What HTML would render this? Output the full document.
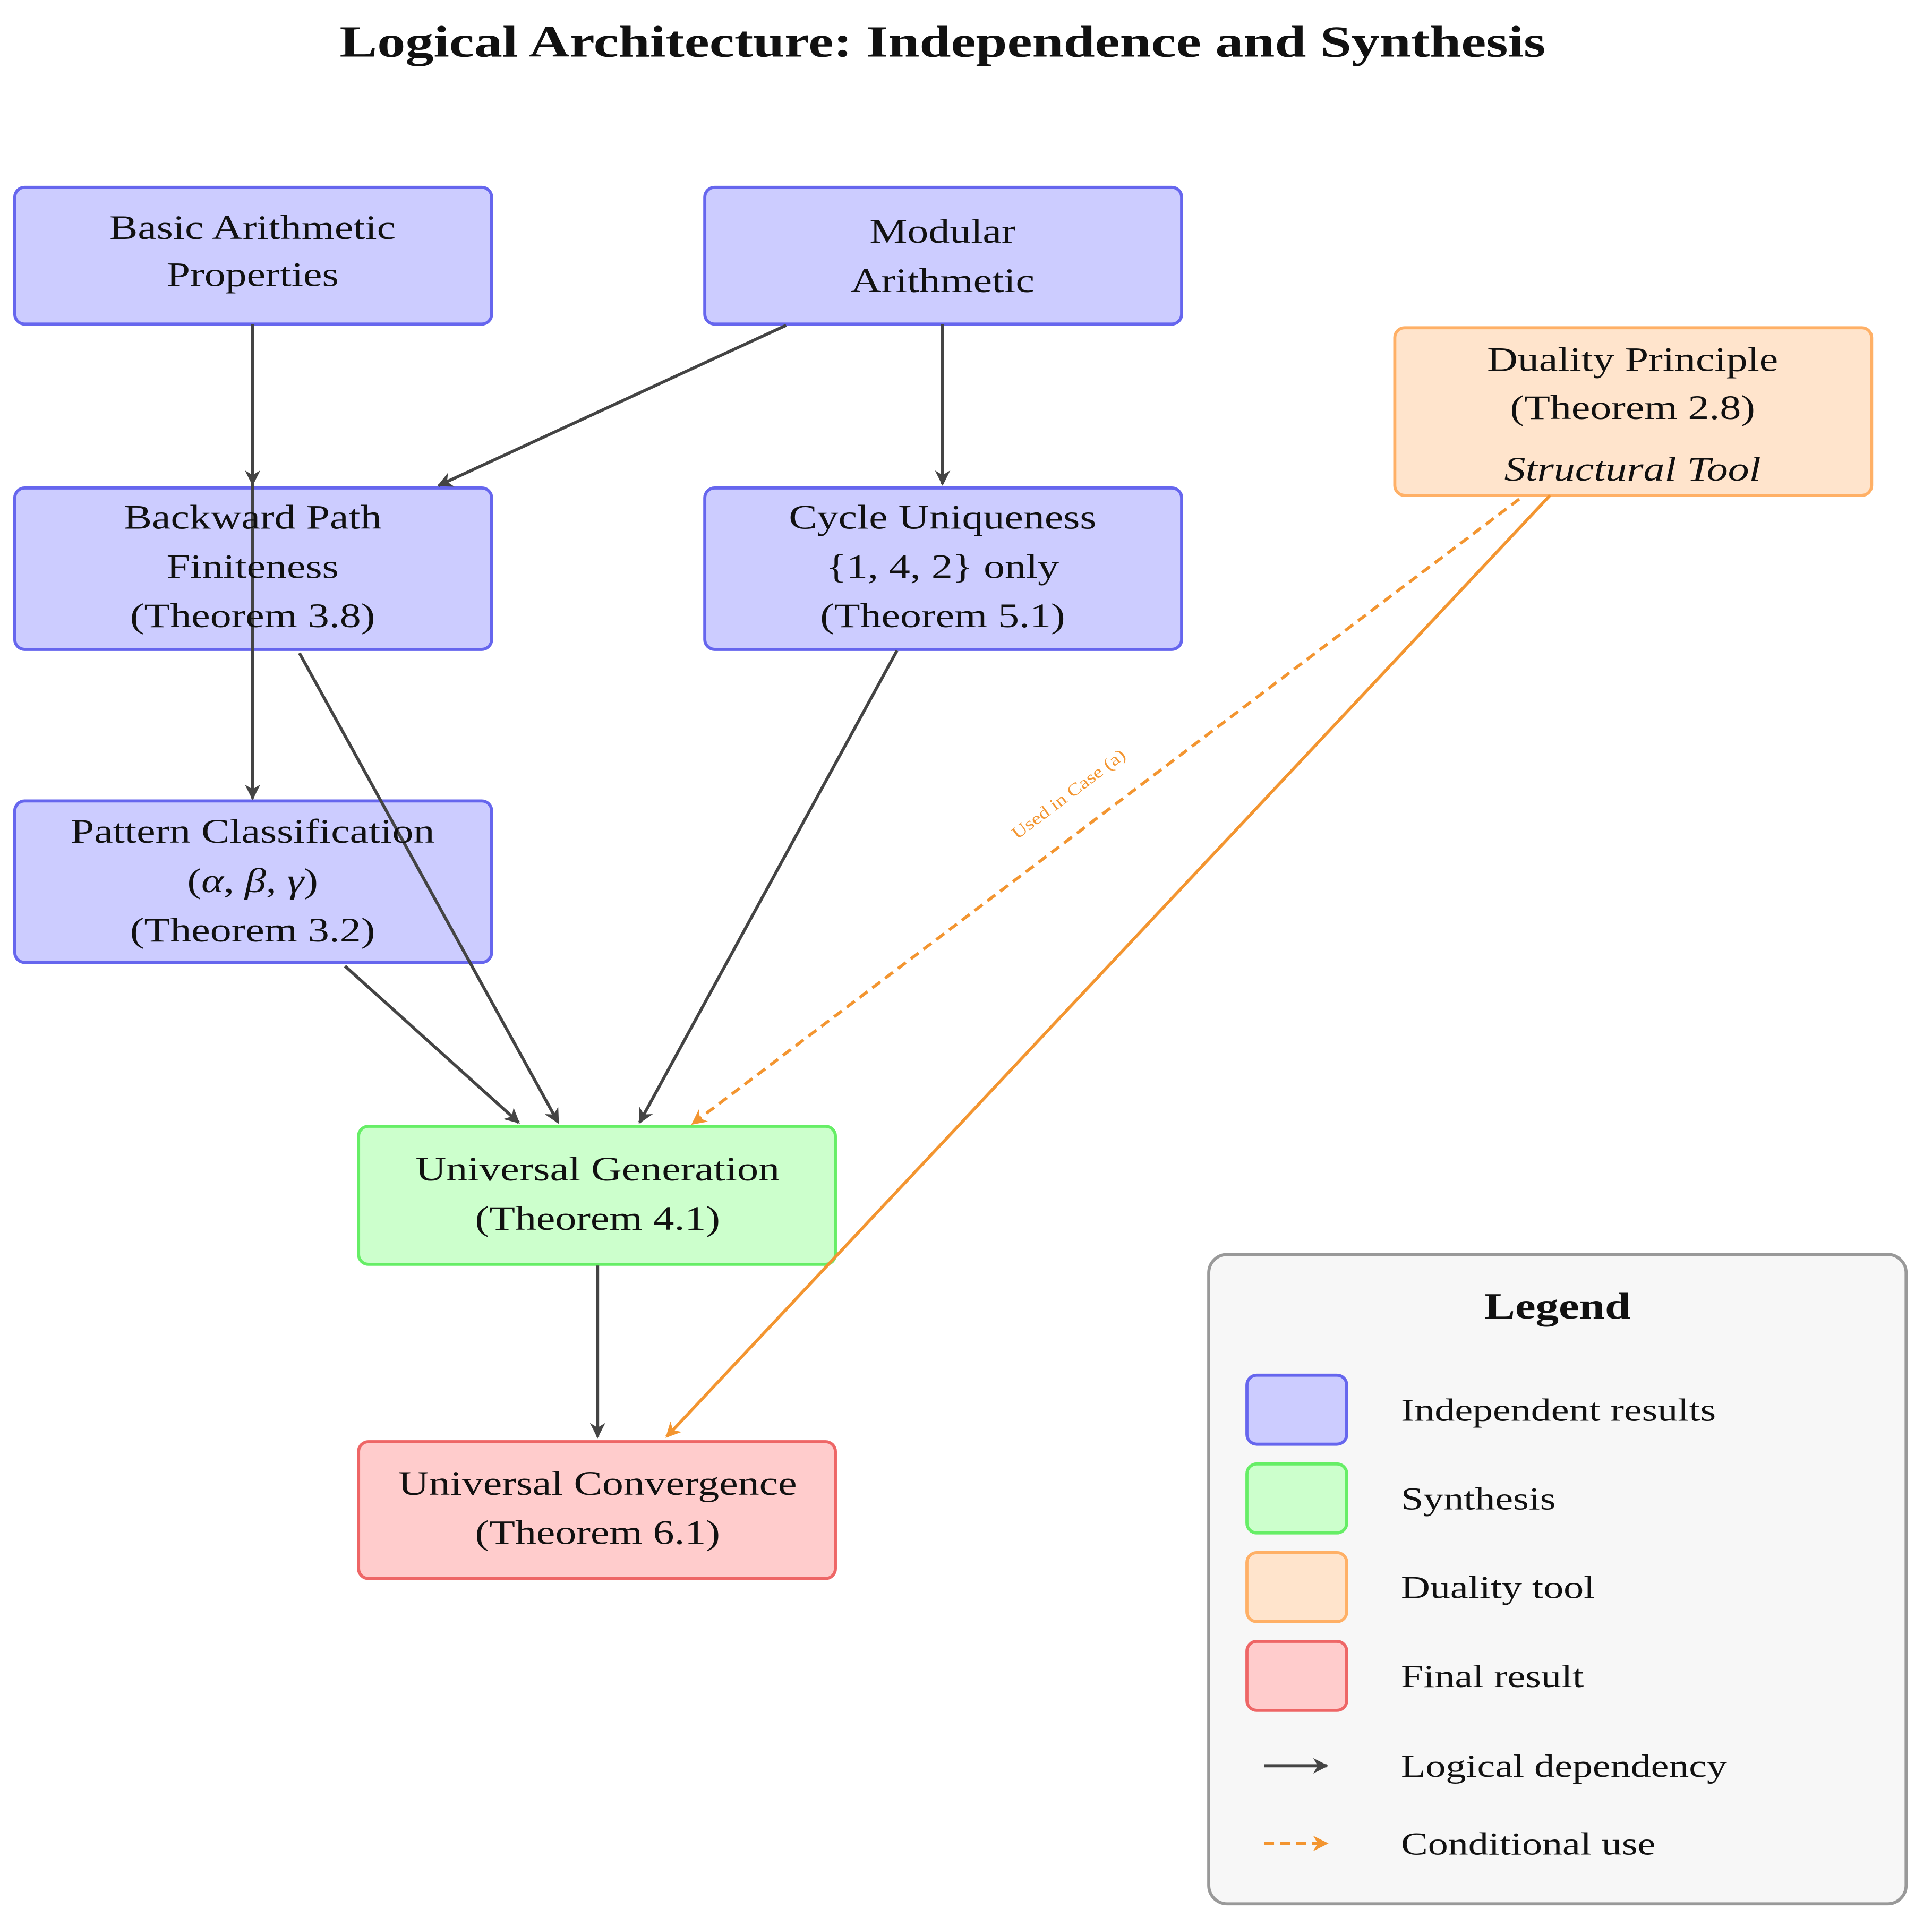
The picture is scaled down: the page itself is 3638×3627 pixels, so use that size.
<!DOCTYPE html>
<html><head><meta charset="utf-8"><style>
html,body{margin:0;padding:0;background:#fff;}
svg{display:block;}
text{font-family:"Liberation Serif","DejaVu Serif",serif;fill:#111;}
</style></head><body>
<svg width="3638" height="3627" viewBox="0 0 1568 1563" preserveAspectRatio="none" xmlns="http://www.w3.org/2000/svg">
<defs>
<marker id="ad" viewBox="0 0 10 10" refX="9" refY="5" markerWidth="5" markerHeight="5" orient="auto"><path d="M0,0 L10,5 L0,10 L3,5 z" fill="#444"/></marker>
<marker id="ao" viewBox="0 0 10 10" refX="9" refY="5" markerWidth="5" markerHeight="5" orient="auto"><path d="M0,0 L10,5 L0,10 L3,5 z" fill="#f39530"/></marker>
</defs>
<text transform="translate(765,46) scale(1.27,1)" text-anchor="middle" font-size="36" font-weight="bold">Logical Architecture: Independence and Synthesis</text>

<g stroke-width="2.5">
<rect x="12" y="152" width="387" height="111" rx="8" fill="#ccccff" stroke="#6666ee"/>
<rect x="572" y="152" width="387" height="111" rx="8" fill="#ccccff" stroke="#6666ee"/>
<rect x="1132" y="266" width="387" height="136" rx="8" fill="#ffe4cc" stroke="#ffb066"/>
<rect x="12" y="396" width="387" height="131" rx="8" fill="#ccccff" stroke="#6666ee"/>
<rect x="572" y="396" width="387" height="131" rx="8" fill="#ccccff" stroke="#6666ee"/>
<rect x="12" y="650" width="387" height="131" rx="8" fill="#ccccff" stroke="#6666ee"/>
<rect x="291" y="914" width="387" height="112" rx="8" fill="#ccffcc" stroke="#66ee66"/>
<rect x="291" y="1170" width="387" height="111" rx="8" fill="#ffcccc" stroke="#ee6666"/>
</g>

<g stroke="#444" stroke-width="2.5" fill="none" marker-end="url(#ad)">
<line x1="205" y1="263" x2="205" y2="393"/>
<line x1="205" y1="263" x2="205" y2="648"/>
<line x1="638" y1="264" x2="356" y2="394"/>
<line x1="765" y1="263" x2="765" y2="393"/>
<line x1="243" y1="530" x2="453" y2="911"/>
<line x1="728" y1="528" x2="519" y2="911"/>
<line x1="280" y1="784" x2="421" y2="911"/>
<line x1="485" y1="1027" x2="485" y2="1166"/>
</g>
<line x1="1233" y1="405" x2="562" y2="912" stroke="#f39530" stroke-width="2.5" stroke-dasharray="8,5" marker-end="url(#ao)"/>
<line x1="1258" y1="402" x2="541" y2="1166" stroke="#f39530" stroke-width="2.5" marker-end="url(#ao)"/>
<text transform="translate(870,648) rotate(-37) scale(1.2,1)" text-anchor="middle" font-size="14" style="fill:#f39530">Used in Case (a)</text>

<g font-size="28" text-anchor="middle">
<text transform="translate(205,194) scale(1.23,1)">Basic Arithmetic</text>
<text transform="translate(205,232) scale(1.23,1)">Properties</text>
<text transform="translate(765,197) scale(1.23,1)">Modular</text>
<text transform="translate(765,237) scale(1.23,1)">Arithmetic</text>
<text transform="translate(1325,301) scale(1.23,1)">Duality Principle</text>
<text transform="translate(1325,340) scale(1.23,1)">(Theorem 2.8)</text>
<text transform="translate(1325,390) scale(1.23,1)" font-style="italic">Structural Tool</text>
<text transform="translate(205,429) scale(1.23,1)">Backward Path</text>
<text transform="translate(205,469) scale(1.23,1)">Finiteness</text>
<text transform="translate(205,509) scale(1.23,1)">(Theorem 3.8)</text>
<text transform="translate(765,429) scale(1.23,1)">Cycle Uniqueness</text>
<text transform="translate(765,469) scale(1.23,1)">{1, 4, 2} only</text>
<text transform="translate(765,509) scale(1.23,1)">(Theorem 5.1)</text>
<text transform="translate(205,684) scale(1.23,1)">Pattern Classification</text>
<text transform="translate(205,724) scale(1.23,1)"><tspan>(</tspan><tspan font-style="italic">α</tspan>, <tspan font-style="italic">β</tspan>, <tspan font-style="italic">γ</tspan>)</text>
<text transform="translate(205,764) scale(1.23,1)">(Theorem 3.2)</text>
<text transform="translate(485,958) scale(1.23,1)">Universal Generation</text>
<text transform="translate(485,998) scale(1.23,1)">(Theorem 4.1)</text>
<text transform="translate(485,1213) scale(1.23,1)">Universal Convergence</text>
<text transform="translate(485,1253) scale(1.23,1)">(Theorem 6.1)</text>
</g>

<rect x="981" y="1018" width="566" height="527" rx="15" fill="#f7f7f7" stroke="#999" stroke-width="2.5"/>
<text transform="translate(1264,1070) scale(1.25,1)" text-anchor="middle" font-size="30" font-weight="bold">Legend</text>
<g stroke-width="2.5">
<rect x="1012" y="1116" width="81" height="56" rx="8" fill="#ccccff" stroke="#6666ee"/>
<rect x="1012" y="1188" width="81" height="56" rx="8" fill="#ccffcc" stroke="#66ee66"/>
<rect x="1012" y="1260" width="81" height="56" rx="8" fill="#ffe4cc" stroke="#ffb066"/>
<rect x="1012" y="1332" width="81" height="56" rx="8" fill="#ffcccc" stroke="#ee6666"/>
</g>
<line x1="1026" y1="1433" x2="1077" y2="1433" stroke="#444" stroke-width="2.5" marker-end="url(#ad)"/>
<line x1="1026" y1="1496" x2="1077" y2="1496" stroke="#f39530" stroke-width="2.5" stroke-dasharray="8,5" marker-end="url(#ao)"/>
<g font-size="26">
<text transform="translate(1137,1153) scale(1.26,1)">Independent results</text>
<text transform="translate(1137,1225) scale(1.26,1)">Synthesis</text>
<text transform="translate(1137,1297) scale(1.26,1)">Duality tool</text>
<text transform="translate(1137,1369) scale(1.26,1)">Final result</text>
<text transform="translate(1137,1442) scale(1.26,1)">Logical dependency</text>
<text transform="translate(1137,1505) scale(1.26,1)">Conditional use</text>
</g>
</svg>
</body></html>
